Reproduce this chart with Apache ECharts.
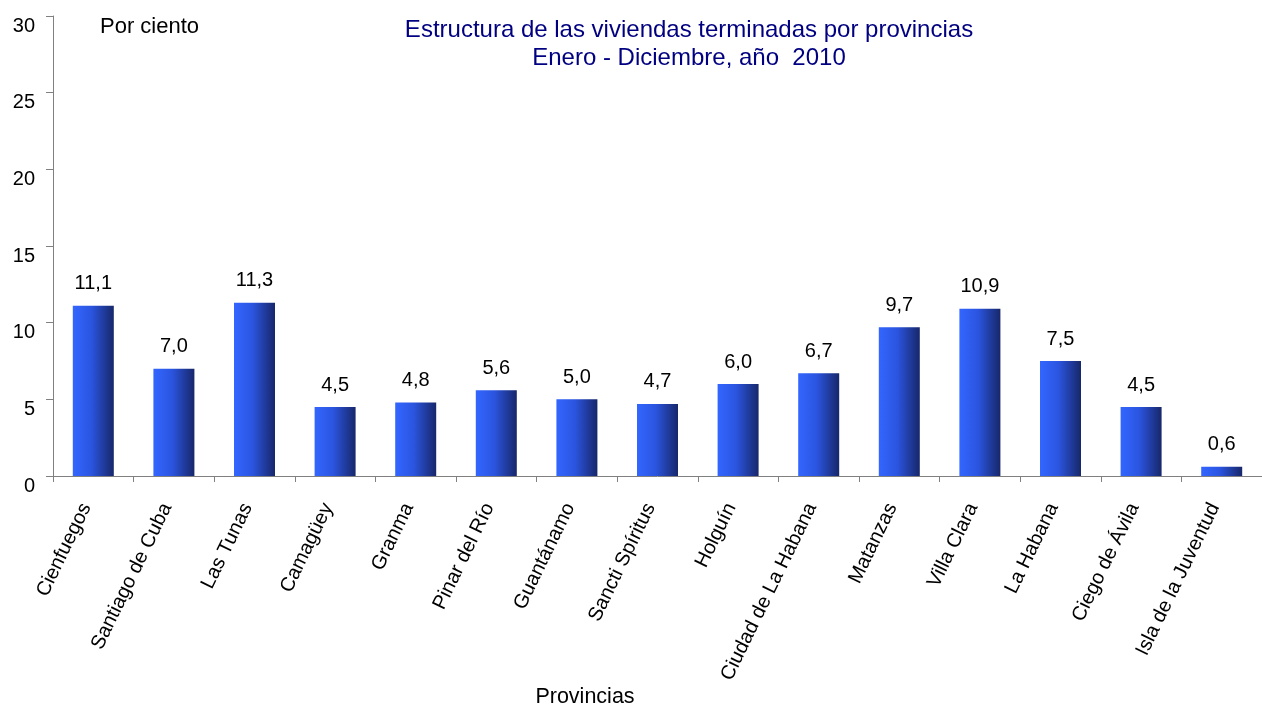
<!DOCTYPE html>
<html>
<head>
<meta charset="utf-8">
<script src="https://cdn.jsdelivr.net/npm/echarts@6/dist/echarts.min.js"></script>
<style>
html,body{margin:0;padding:0;background:#fff;}
#chart{width:1262px;height:709px;}
</style>
</head>
<body>
<div id="chart"></div>
<script>
const categories = ['Cienfuegos','Santiago de Cuba','Las Tunas','Camagüey','Granma','Pinar del Río','Guantánamo','Sancti Spíritus','Holguín','Ciudad de La Habana','Matanzas','Villa Clara','La Habana','Ciego de Ávila','Isla de la Juventud'];
const values = [11.1,7.0,11.3,4.5,4.8,5.6,5.0,4.7,6.0,6.7,9.7,10.9,7.5,4.5,0.6];
const titleLines = ['Estructura de las viviendas terminadas por provincias','Enero - Diciembre, año  2010'];
const yUnit = 'Por ciento';
const xName = 'Provincias';

const FONT = '"Liberation Sans", Arial, sans-serif';
const chart = echarts.init(document.getElementById('chart'), null, {renderer:'canvas'});
chart.setOption({
  animation:false,
  backgroundColor:'#ffffff',
  graphic:[
    {type:'text', x:689, y:30, style:{text:titleLines[0], fill:'#000080', font:'24px '+FONT, align:'center', verticalAlign:'middle'}},
    {type:'text', x:689, y:58, style:{text:titleLines[1], fill:'#000080', font:'24px '+FONT, align:'center', verticalAlign:'middle'}},
    {type:'text', x:100, y:27, style:{text:yUnit, fill:'#000', font:'22px '+FONT, align:'left', verticalAlign:'middle'}},
    {type:'text', x:585, y:697, style:{text:xName, fill:'#000', font:'21.5px '+FONT, align:'center', verticalAlign:'middle'}}
  ],
  grid:{left:53, right:0, top:16, bottom:233, containLabel:false},
  xAxis:{
    type:'category', data:categories, boundaryGap:true,
    axisLine:{lineStyle:{color:'#808080', width:1}},
    axisTick:{show:true, length:6, alignWithLabel:false, lineStyle:{color:'#808080'}},
    axisLabel:{rotate:64, interval:0, margin:14, padding:[0,16,0,0], color:'#000', fontFamily:FONT, fontSize:20}
  },
  yAxis:{
    type:'value', min:0, max:30, interval:5,
    axisLine:{show:true, lineStyle:{color:'#808080', width:1}},
    axisTick:{show:true, length:7, lineStyle:{color:'#808080'}},
    splitLine:{show:false},
    axisLabel:{margin:18, color:'#000', fontFamily:FONT, fontSize:20, verticalAlign:'top'}
  },
  series:[{
    type:'bar', data:values, barWidth:41,
    itemStyle:{color:new echarts.graphic.LinearGradient(0,0,1,0,[
      {offset:0,color:'#3366ff'},{offset:0.45,color:'#2b55e0'},{offset:1,color:'#17276a'}
    ])},
    label:{show:true, position:'top', distance:12, color:'#000', fontFamily:FONT, fontSize:20,
      formatter:p=>p.value.toFixed(1).replace('.',',')}
  }]
});
</script>
</body>
</html>
